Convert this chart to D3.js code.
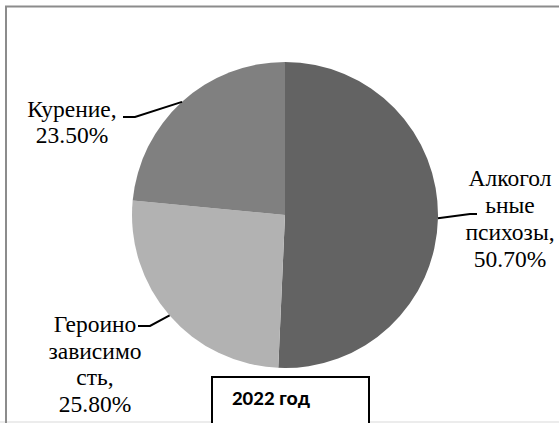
<!DOCTYPE html>
<html><head><meta charset="utf-8">
<script src="https://cdn.jsdelivr.net/npm/d3@7"></script>
</head><body style="margin:0">
<script>
const categories = ["Алкогольные психозы", "Героинозависимость", "Курение"];
const values = [50.7, 25.8, 23.5];
const labelLines = [["Алкогол","ьные","психозы,","50.70%"],["Героино","зависимо","сть,","25.80%"],["Курение,","23.50%"]];
const colors = ["#636363", "#b2b2b2", "#808080"];
const title = "2022 год";

const W = 559, H = 423;
const svg = d3.select("body").append("svg").attr("width", W).attr("height", H).style("display","block");

svg.append("rect").attr("x", 0).attr("y", 421).attr("width", W).attr("height", 2).attr("fill", "#ececec");
svg.append("path").attr("d", `M6,${H} V6.5 H${W}`).attr("fill","none").attr("stroke","#8c8c8c").attr("stroke-width",2);

const cx = 285, cy = 215, r = 153;
const g = svg.append("g").attr("transform", `translate(${cx},${cy})`);
const pie = d3.pie().sort(null).value(d => d)(values);
const arc = d3.arc().innerRadius(0).outerRadius(r);
g.selectAll("path.slice").data(pie).join("path").attr("class","slice")
  .attr("d", arc).attr("fill", (d,i) => colors[i]);

const layout = [
  {x:510, y:186, lh:27, bend:[470,214], end:[477,214]},
  {x:95, y:332, lh:26.7, bend:[150,326], end:[138,326]},
  {x:72, y:117, lh:26, bend:[135,117], end:[123,117]}
];
const serif = `"Liberation Serif", "Times New Roman", Times, monospace`;
pie.forEach((d,i) => {
  const a = (d.startAngle + d.endAngle)/2;
  const p0 = [cx + r*Math.sin(a), cy - r*Math.cos(a)];
  const L = layout[i];
  svg.append("path").attr("d", d3.line()([p0, L.bend, L.end]))
    .attr("fill","none").attr("stroke","#000").attr("stroke-width",2);
  labelLines[i].forEach((s,j) => svg.append("text")
    .attr("x", L.x).attr("y", L.y + j*L.lh)
    .style("font-family", serif).style("font-size", "23.5px")
    .attr("text-anchor","middle").attr("fill","#000").text(s));
});

svg.append("rect").attr("x", 212).attr("y", 377).attr("width", 157).attr("height", 60)
  .attr("fill","#fff").attr("stroke","#000").attr("stroke-width",2);
svg.append("text").attr("x", 271).attr("y", 405).attr("text-anchor","middle")
  .style("font-family", `"Carlito", "Liberation Sans", sans-serif`).style("font-weight","bold").style("font-size","21px")
  .text(title);
</script>
</body></html>
